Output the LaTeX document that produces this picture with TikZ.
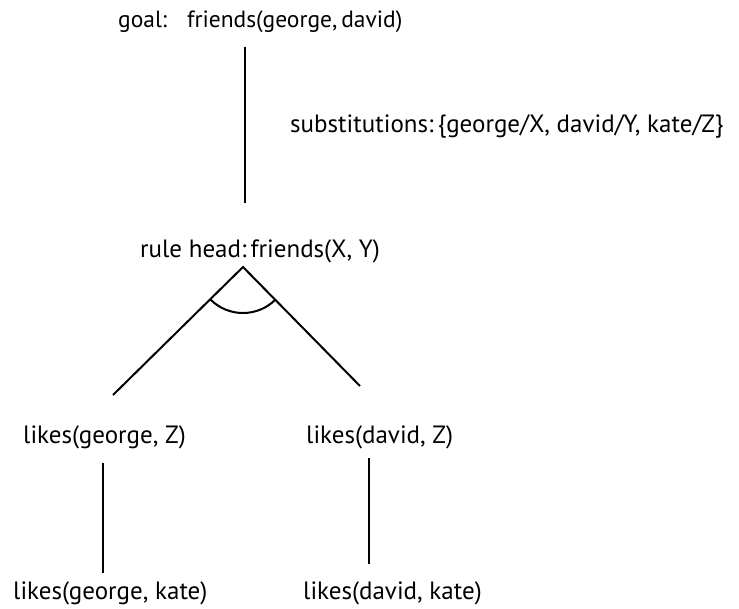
\documentclass[tikz,border=0pt]{standalone}
\usepackage{fontspec}
\setmainfont{PT Sans}
\usepackage{tikz}

\tikzset{
  lbl/.style={anchor=base west,inner sep=0pt,font=\fontsize{25}{30}\selectfont},
  edge/.style={line width=2pt}
}

\begin{document}
\begin{tikzpicture}[x=1pt,y=-1pt]
  \useasboundingbox (0,0) rectangle (739,608);

  \node[lbl,font=\fontsize{23.5}{30}\selectfont] (goal) at (118,27) {goal:\hspace{20pt}friends(george,\,david)};
  \node[lbl] (subst) at (290,132) {substitutions:\,\{george/X, david/Y, kate/Z\}};
  \node[lbl] (head) at (140,257) {rule head:\,friends(X, Y)};
  \node[lbl] (lgz) at (23,443) {likes(george, Z)};
  \node[lbl] (ldz) at (306,443) {likes(david, Z)};
  \node[lbl] (lgk) at (13,599) {likes(george, kate)};
  \node[lbl] (ldk) at (303,599) {likes(david, kate)};

  \coordinate (goal-s) at (245,47);
  \coordinate (head-n) at (245,203);
  \coordinate (apex) at (243,267);
  \coordinate (lend) at (113,395);
  \coordinate (rend) at (360,386);
  \coordinate (lgz-s) at (103,463);
  \coordinate (lgk-n) at (103,573);
  \coordinate (ldz-s) at (369,458);
  \coordinate (ldk-n) at (369,564);

  \draw[edge] (goal-s) -- (head-n);
  \draw[edge] (lend) -- (apex) -- (rend);
  \draw[edge] ([shift={(225:46pt)}]apex) arc[start angle=225,end angle=315,radius=46pt];
  \draw[edge] (lgz-s) -- (lgk-n);
  \draw[edge] (ldz-s) -- (ldk-n);
\end{tikzpicture}
\end{document}
